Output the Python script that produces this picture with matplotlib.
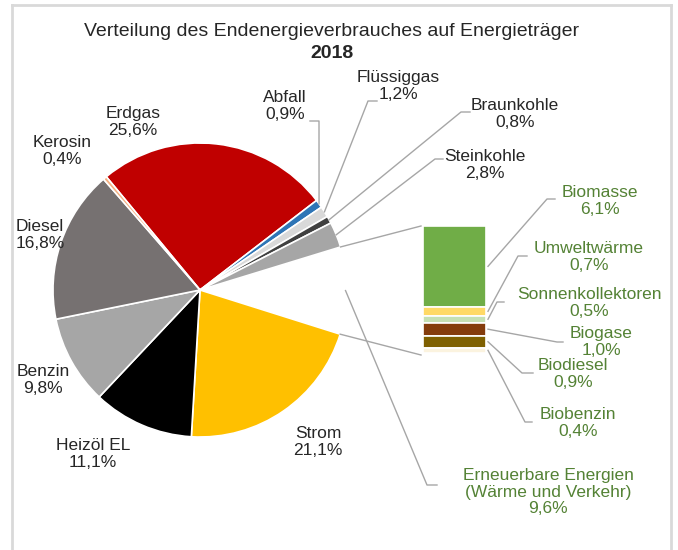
import matplotlib
matplotlib.use("Agg")
import matplotlib.pyplot as plt
import numpy as np

plt.rcParams['font.family'] = ['Liberation Sans', 'DejaVu Sans']

# ---- data ----
pie_labels = ["Erdgas", "Abfall", "Flüssiggas", "Braunkohle", "Steinkohle",
              "Erneuerbare Energien\n(Wärme und Verkehr)", "Strom", "Heizöl EL",
              "Benzin", "Diesel", "Kerosin"]
pie_values = [25.6, 0.9, 1.2, 0.8, 2.8, 9.6, 21.1, 11.1, 9.8, 16.8, 0.4]
pie_colors = ["#C00000", "#2E75B6", "#D9D9D9", "#404040", "#A6A6A6",
              "#FFFFFF", "#FFC000", "#000000", "#A6A6A6", "#767171", "#F4B183"]

bar_labels = ["Biomasse", "Umweltwärme", "Sonnenkollektoren", "Biogase",
              "Biodiesel", "Biobenzin"]
bar_values = [6.1, 0.7, 0.5, 1.0, 0.9, 0.4]
bar_colors = ["#70AD47", "#FFD966", "#C5E0B4", "#843C0C", "#7F6000", "#FBF3DF"]

title_line1 = "Verteilung des Endenergieverbrauches auf Energieträger"
title_line2 = "2018"

W, H = 678, 550
fig = plt.figure(figsize=(W / 100, H / 100), dpi=100)
ax = fig.add_axes([0, 0, 1, 1])

def Y(yp):
    return H - yp

# pie geometry (pixels)
CX, CY, R = 200, 290, 147
START = 129.6
wedges, _ = ax.pie(pie_values, colors=pie_colors, startangle=START,
                   counterclock=False, center=(CX, Y(CY)), radius=R,
                   wedgeprops=dict(edgecolor="white", linewidth=1.2))
ee_idx = 5
wedges[ee_idx].set_facecolor("none")
wedges[ee_idx].set_edgecolor("none")

ax.set_xlim(0, W)
ax.set_ylim(0, H)
ax.set_aspect("auto")
ax.axis("off")

# bar of pie
BX0, BX1, BTOP, BBOT = 423, 486, 226, 353
bax = fig.add_axes([BX0 / W, (H - BBOT) / H, (BX1 - BX0) / W, (BBOT - BTOP) / H])
cum = np.concatenate([[0], np.cumsum(bar_values)[:-1]])
bax.bar(0, bar_values, bottom=cum, width=1.0, color=bar_colors,
        edgecolor="white", linewidth=1.2)
bax.set_xlim(-0.5, 0.5)
bax.set_ylim(sum(bar_values), 0)
bax.axis("off")

line_c = "#A6A6A6"
lw = 1.0

def wedge_point(w, rr=R):
    th = np.deg2rad((w.theta1 + w.theta2) / 2)
    return CX + rr * np.cos(th), CY - rr * np.sin(th)

def edge_point(angle):
    th = np.deg2rad(angle)
    return CX + R * np.cos(th), CY - R * np.sin(th)

# connector lines from pie slice to bar
ee_w = wedges[ee_idx]
p1 = edge_point(ee_w.theta2)
p2 = edge_point(ee_w.theta1)
ax.plot([p1[0], BX0 - 2], [Y(p1[1]), Y(BTOP)], color=line_c, lw=lw)
ax.plot([p2[0], BX0 - 2], [Y(p2[1]), Y(BBOT + 2)], color=line_c, lw=lw)

txt_c = "#262626"
grn = "#548235"
FS = 12.5

# pie labels: (index, label pos, elbow, end)
pie_label_pos = {
    0: (133, 122, None, None),
    1: (285, 106, (319, 121), (310, 121)),
    2: (398, 86, (368, 101), (377, 101)),
    3: (515, 114, (461, 112), (470, 112)),
    4: (485, 165, (435, 159), (443, 159)),
    5: (548, 492, (427, 485), (437, 485)),
    6: (318, 442, None, None),
    7: (93, 454, None, None),
    8: (43, 380, None, None),
    9: (40, 235, None, None),
    10: (62, 151, None, None),
}
for i, (lx, ly, elbow, end) in pie_label_pos.items():
    name = pie_labels[i]
    val = f"{pie_values[i]:.1f}".replace(".", ",") + "%"
    col = grn if i == ee_idx else txt_c
    ax.text(lx, Y(ly), f"{name}\n{val}", ha="center", va="center",
            multialignment="center", fontsize=FS, color=col, linespacing=1.15)
    if elbow is not None:
        sx, sy = wedge_point(wedges[i])
        if i == ee_idx:
            sx, sy = wedge_point(wedges[i], R * 0.99)
        ax.plot([sx, elbow[0], end[0]], [Y(sy), Y(elbow[1]), Y(end[1])],
                color=line_c, lw=lw)

# bar labels
bar_label_pos = [
    (600, 201, (547, 199), (555, 199)),
    (589, 257, (518, 256), (527, 256)),
    (589, 303, (497, 302), (504, 302)),
    (601, 342, (557, 342), (563, 342)),
    (573, 374, (522, 373), (533, 373)),
    (578, 423, (525, 422), (532, 422)),
]
tot = sum(bar_values)
for j, (lx, ly, elbow, end) in enumerate(bar_label_pos):
    val = f"{bar_values[j]:.1f}".replace(".", ",") + "%"
    ax.text(lx, Y(ly), f"{bar_labels[j]}\n{val}", ha="center", va="center",
            multialignment="center", fontsize=FS, color=grn, linespacing=1.15)
    sy = BTOP + (cum[j] + bar_values[j] / 2) / tot * (BBOT - BTOP)
    sx = BX1 + 2
    ax.plot([sx, elbow[0], end[0]], [Y(sy), Y(elbow[1]), Y(end[1])],
            color=line_c, lw=lw)

# title
ax.text(332, Y(31), title_line1, ha="center", va="center", fontsize=14,
        color=txt_c)
ax.text(332, Y(53), title_line2, ha="center", va="center", fontsize=14,
        color=txt_c, fontweight="bold")

# chart frame
fc = "#D9D9D9"
ax.plot([12, 12], [Y(5), Y(560)], color=fc, lw=2, clip_on=False)
ax.plot([12, 671], [Y(5), Y(5)], color=fc, lw=2)
ax.plot([671, 671], [Y(5), Y(560)], color=fc, lw=2, clip_on=False)

fig.savefig("out.png", dpi=100)
